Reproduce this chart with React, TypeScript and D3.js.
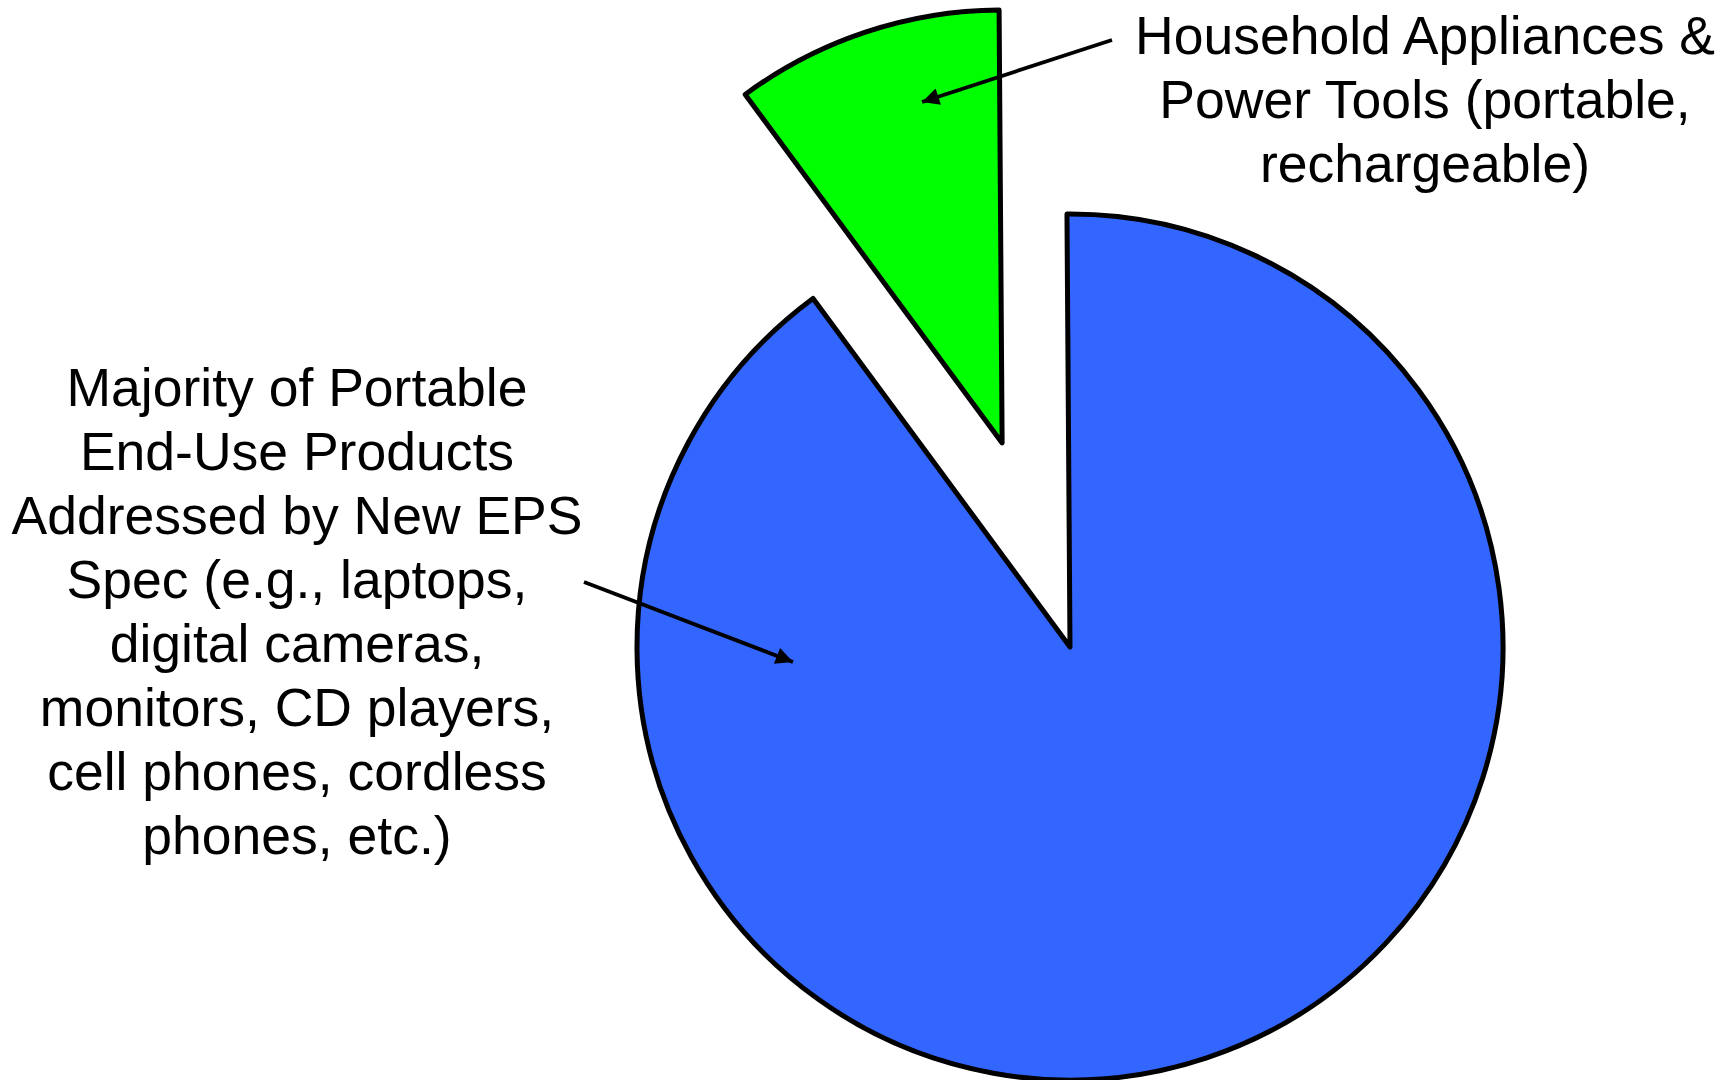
import React from "react";
import * as d3 from "d3";

const categories = [
  "Majority of Portable End-Use Products Addressed by New EPS Spec",
  "Household Appliances & Power Tools",
];
const values = [90, 10];
const colors = ["#3366FF", "#00FF00"];
const explode = [0, 215];

const blueLabel = [
  "Majority of Portable",
  "End-Use Products",
  "Addressed by New EPS",
  "Spec (e.g., laptops,",
  "digital cameras,",
  "monitors, CD players,",
  "cell phones, cordless",
  "phones, etc.)",
];
const greenLabel = [
  "Household Appliances &",
  "Power Tools (portable,",
  "rechargeable)",
];

const W = 1729;
const H = 1080;
const cx = 1070;
const cy = 647;
const R = 433;
const FONT = "'Liberation Sans', Arial, Helvetica, sans-serif";

export default function App() {
  const rot = -0.007;
  const pie = d3
    .pie<number>()
    .sort(null)
    .startAngle(rot)
    .endAngle(Math.PI * 2 + rot)
    .value((d) => d);
  const arcs = pie(values);
  const arc = d3.arc<d3.PieArcDatum<number>>().innerRadius(0).outerRadius(R);

  const arrows = [
    { x1: 584, y1: 582, x2: 793, y2: 662 },
    { x1: 1112, y1: 40, x2: 922, y2: 102 },
  ];

  return (
    <div style={{ position: "fixed", left: 0, top: 0, width: W, height: H, background: "#fff" }}>
      <svg width={W} height={H} style={{ display: "block" }}>
        <defs>
          <marker
            id="ah"
            viewBox="0 0 10 10"
            refX="10"
            refY="5"
            markerWidth="5.5"
            markerHeight="4.5"
            markerUnits="strokeWidth"
            orient="auto"
          >
            <path d="M0,0 L10,5 L0,10 Z" fill="#000" />
          </marker>
        </defs>
        <g transform={`translate(${cx},${cy})`}>
          {arcs.map((a, i) => {
            const mid = (a.startAngle + a.endAngle) / 2;
            const dx = Math.sin(mid) * explode[i];
            const dy = -Math.cos(mid) * explode[i];
            return (
              <path
                key={categories[i]}
                d={arc(a) || ""}
                transform={`translate(${dx},${dy})`}
                fill={colors[i]}
                stroke="#000"
                strokeWidth={5}
                strokeLinejoin="round"
              />
            );
          })}
        </g>
        {arrows.map((a, i) => (
          <line
            key={i}
            x1={a.x1}
            y1={a.y1}
            x2={a.x2}
            y2={a.y2}
            stroke="#000"
            strokeWidth={3.8}
            markerEnd="url(#ah)"
          />
        ))}
        <text fontFamily={FONT} fontSize={53.5} textAnchor="middle" fill="#000">
          {blueLabel.map((l, i) => (
            <tspan key={i} x={297} y={406 + i * 64}>
              {l}
            </tspan>
          ))}
        </text>
        <text fontFamily={FONT} fontSize={53.5} textAnchor="middle" fill="#000">
          {greenLabel.map((l, i) => (
            <tspan key={i} x={1425} y={54 + i * 64}>
              {l}
            </tspan>
          ))}
        </text>
      </svg>
    </div>
  );
}
